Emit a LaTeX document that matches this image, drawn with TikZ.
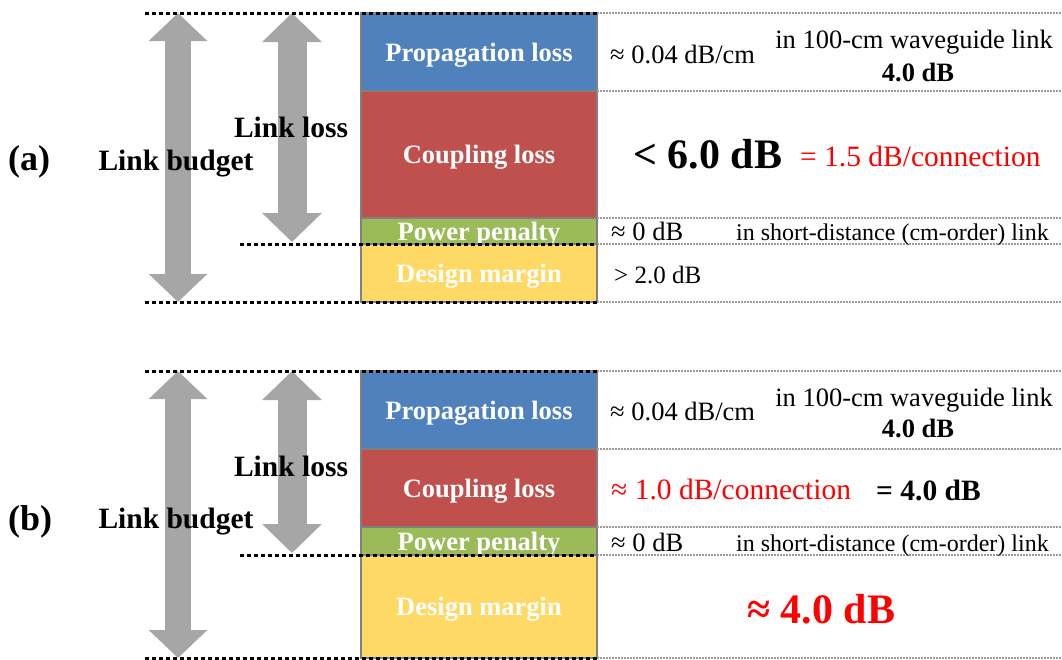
\documentclass[tikz,border=0pt]{standalone}
\usepackage{fontspec}
\setmainfont{Liberation Serif}
\usetikzlibrary{arrows.meta,positioning}

\definecolor{propblue}{HTML}{4F81BD}
\definecolor{couplered}{HTML}{C0504D}
\definecolor{penaltygreen}{HTML}{9BBB59}
\definecolor{margingold}{HTML}{FFD966}
\definecolor{arrowgray}{HTML}{A6A6A6}
\definecolor{guidegray}{HTML}{9C9C9C}
\definecolor{notered}{HTML}{FF0000}
\newcommand{\fs}[1]{\fontsize{#1}{#1}\selectfont}

\tikzset{
  layer/.style={draw=gray, line width=1.2pt, minimum width=236pt, inner sep=0pt,
    outer sep=0pt, text=white, text depth=0pt, font=\fs{26.5}\bfseries},
  limit/.style={line width=3pt, dash pattern=on 4pt off 3pt},
  guide/.style={guidegray, line width=1.5pt, dash pattern=on 1.5pt off 1.5pt},
  budgetarrow/.style={arrowgray, line width=26pt,
    {Triangle[length=28pt,width=57pt]}-{Triangle[length=28pt,width=57pt]}},
  lossarrow/.style={arrowgray, line width=29pt,
    {Triangle[length=29pt,width=58pt]}-{Triangle[length=29pt,width=58pt]}},
  panel/.style={inner sep=0pt, anchor=base west, font=\fs{36}\bfseries},
  side/.style={inner sep=0pt, anchor=base, font=\fs{29.5}\bfseries},
  note/.style={inner sep=0pt, anchor=base west, font=\fs{26.5}},
  small/.style={inner sep=0pt, anchor=base west, font=\fs{24}},
}

\begin{document}
\begin{tikzpicture}[x=1pt,y=-1pt]
\useasboundingbox (0,0) rectangle (1062,659);

% (a) gray arrows
\coordinate (bta) at (178,13);
\coordinate (bba) at (178,302);
\coordinate (lta) at (292,13);
\coordinate (lba) at (292,242);
\draw[budgetarrow] (bta) -- (bba);
\draw[lossarrow] (lta) -- (lba);

% (b) gray arrows
\coordinate (btb) at (178,371);
\coordinate (bbb) at (178,658);
\coordinate (ltb) at (292,371);
\coordinate (lbb) at (292,553);
\draw[budgetarrow] (btb) -- (bbb);
\draw[lossarrow] (ltb) -- (lbb);

% left labels
\node[panel] (pa) at (8,170) {(a)};
\node[side] (budgeta) at (176,170) {Link budget};
\node[side] (lossa) at (291,137) {Link loss};
\node[panel] (pb) at (8,530) {(b)};
\node[side] (budgetb) at (176,528) {Link budget};
\node[side] (lossb) at (291,476) {Link loss};

% (a) stack
\node[layer, fill=propblue, minimum height=78pt, anchor=north west] (propa) at (361,13) {Propagation loss};
\node[layer, fill=couplered, minimum height=127pt, below=0pt of propa] (coupa) {Coupling loss};
\node[layer, fill=penaltygreen, minimum height=26pt, below=0pt of coupa] (pena) {Power penalty};
\node[layer, fill=margingold, minimum height=58pt, below=0pt of pena] (marga) {Design margin};

% (b) stack
\node[layer, fill=propblue, minimum height=78pt, anchor=north west] (propb) at (361,371) {Propagation loss};
\node[layer, fill=couplered, minimum height=78pt, below=0pt of propb] (coupb) {Coupling loss};
\node[layer, fill=penaltygreen, minimum height=28pt, below=0pt of coupb] (penb) {Power penalty};
\node[layer, fill=margingold, minimum height=103pt, below=0pt of penb] (margb) {Design margin};

% gray guides to the right
\foreach \n in {propa,coupa,pena,marga,propb,coupb,penb,margb}
  \draw[guide] (\n.north east) -- +(465,0);
\draw[guide] (marga.south east) -- +(465,0);
\draw[guide] (margb.south east) -- +(465,0);

% black limits
\draw[limit] (145,13) -- (propa.north east);
\draw[limit] (240,244) -- (marga.north east);
\draw[limit] (145,302) -- (marga.south east);
\draw[limit] (145,371) -- (propb.north east);
\draw[limit] (240,555) -- (margb.north east);
\draw[limit] (145,658) -- (margb.south east);

% (a) values
\node[note] (ratea) at (610,63) {≈ 0.04 dB/cm};
\node[note, anchor=base] (wga) at (914,48) {in 100-cm waveguide link};
\node[note, anchor=base, font=\fs{26.5}\bfseries] (wgsuma) at (918,81) {4.0 dB};
\node[note, font=\fs{42}\bfseries] (couplea) at (633,168) {< 6.0 dB};
\node[note, font=\fs{29.5}, text=notered] (perca) at (800,166) {= 1.5 dB/connection};
\node[note] (zeroa) at (611,240) {≈ 0 dB};
\node[small] (shorta) at (736,240) {in short-distance (cm-order) link};
\node[note, font=\fs{25}] (margina) at (614,283) {> 2.0 dB};

% (b) values
\node[note] (rateb) at (610,420) {≈ 0.04 dB/cm};
\node[note, anchor=base] (wgb) at (914,406) {in 100-cm waveguide link};
\node[note, anchor=base, font=\fs{26.5}\bfseries] (wgsumb) at (918,437) {4.0 dB};
\node[note, font=\fs{29.5}, text=notered] (percb) at (611,499) {≈ 1.0 dB/connection};
\node[note, font=\fs{29.5}\bfseries] (coupleb) at (876,500) {= 4.0 dB};
\node[note] (zerob) at (611,551) {≈ 0 dB};
\node[small] (shortb) at (736,551) {in short-distance (cm-order) link};
\node[note, font=\fs{42}\bfseries, text=notered] (marginb) at (747,623) {≈ 4.0 dB};
\end{tikzpicture}
\end{document}
